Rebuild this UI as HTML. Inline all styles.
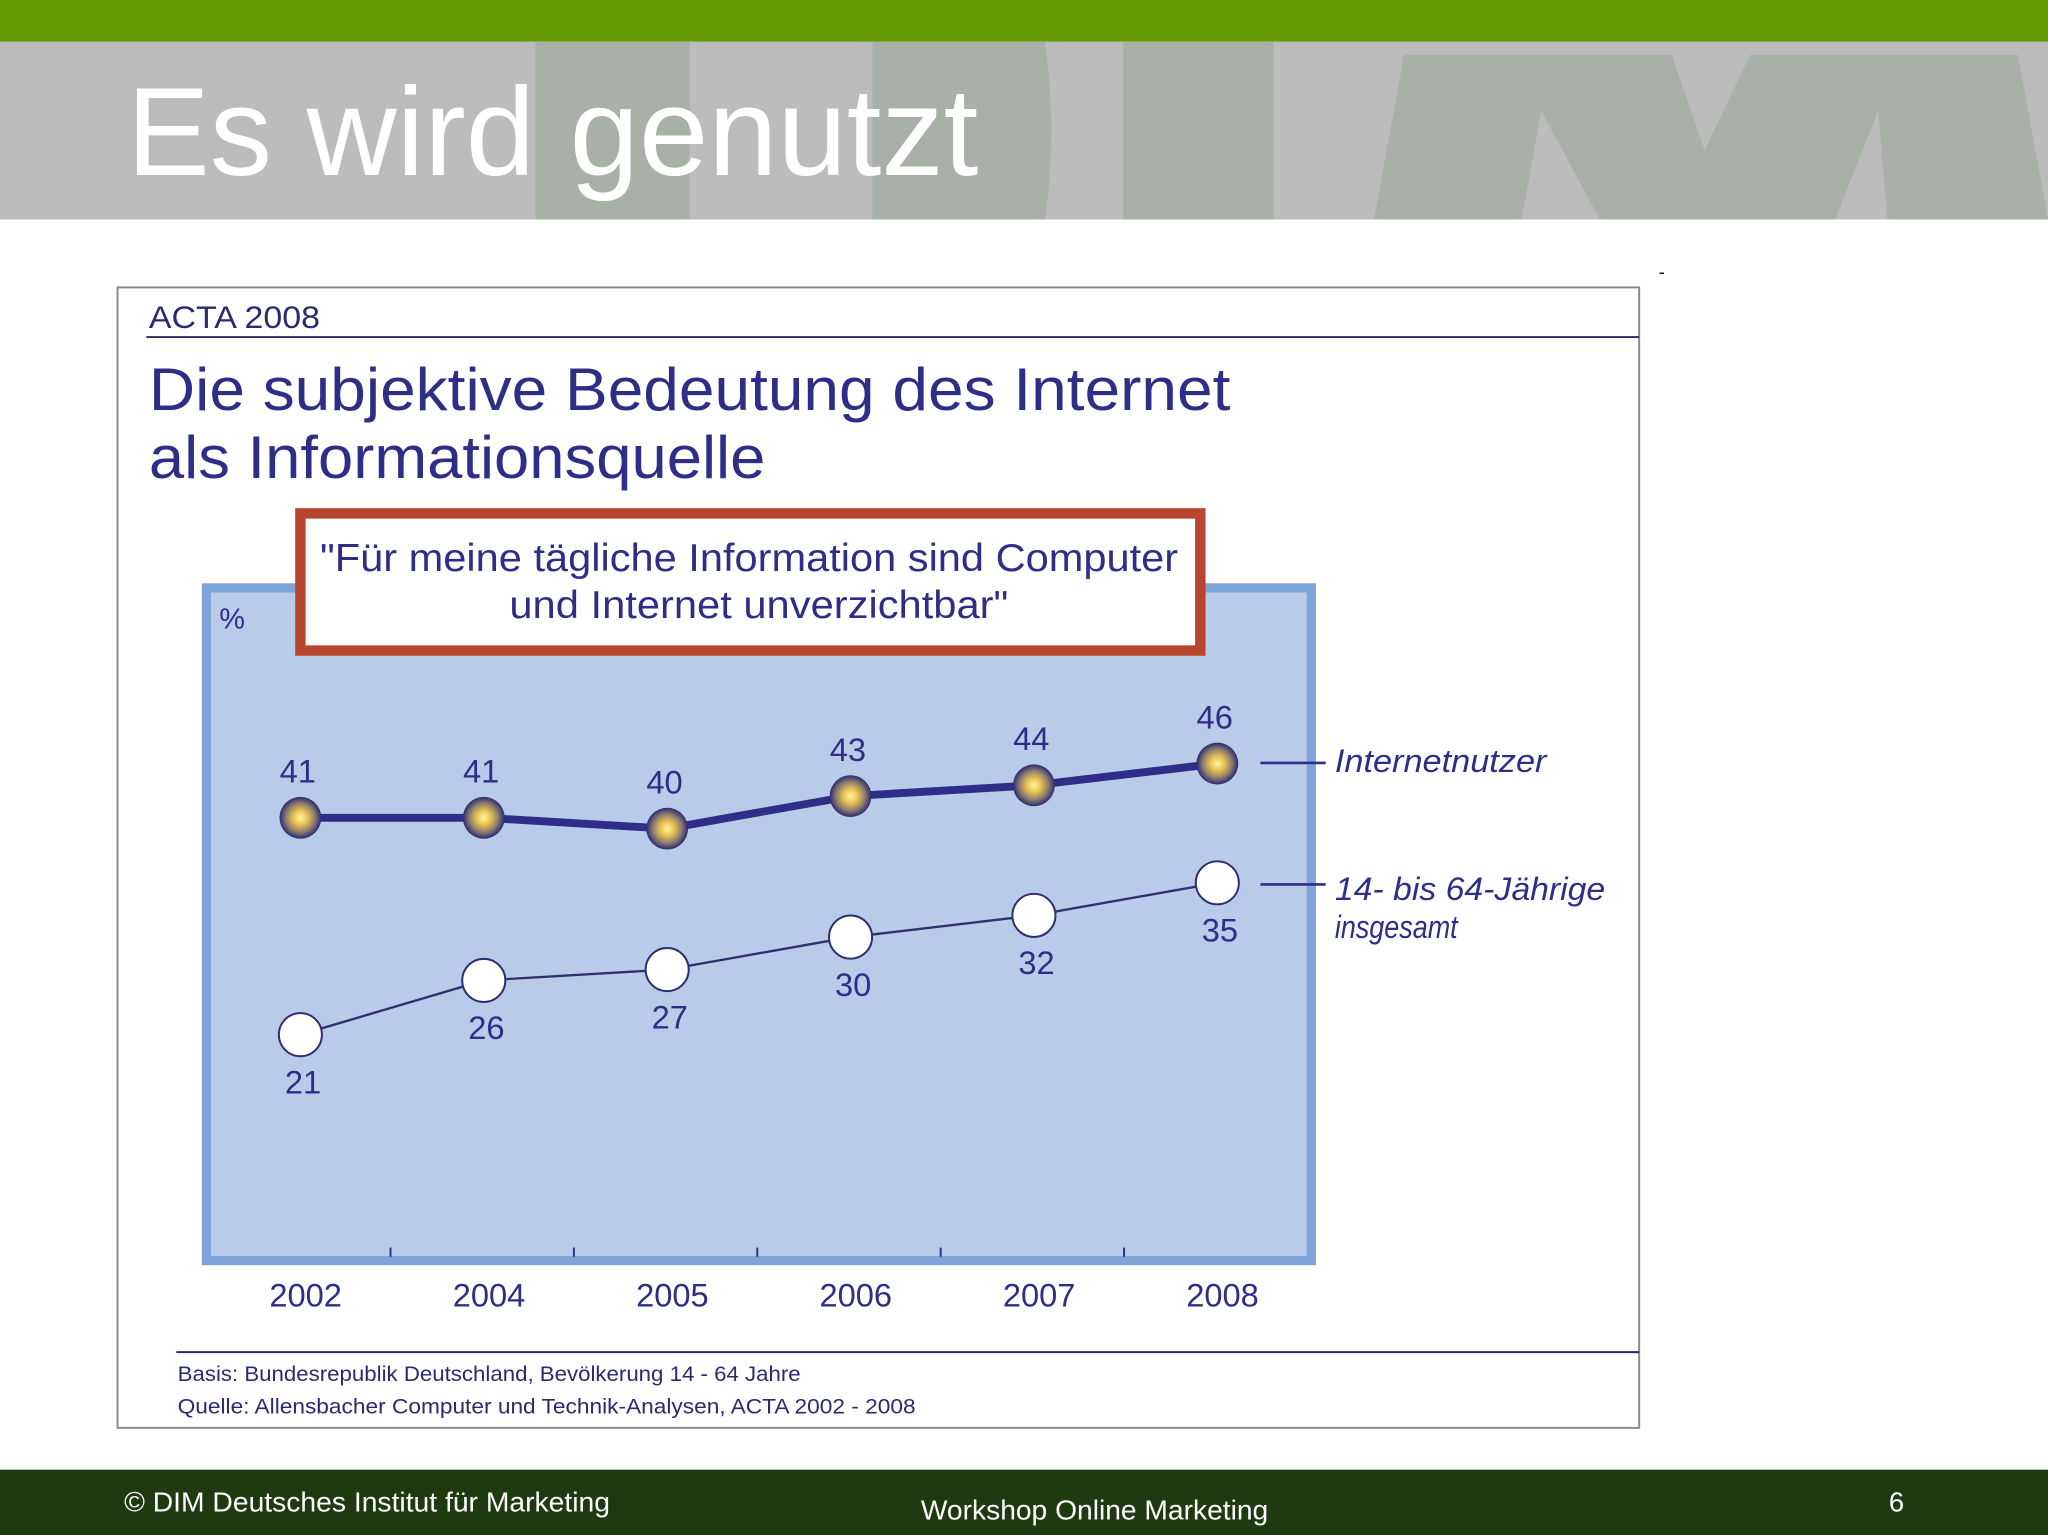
<!DOCTYPE html>
<html><head><meta charset="utf-8"><style>
html,body{margin:0;padding:0;background:#fff;}
svg{display:block;}
text{font-family:"Liberation Sans",sans-serif;}
</style></head><body>
<svg width="2048" height="1535" viewBox="0 0 1568 1175" preserveAspectRatio="none">
<defs>
<radialGradient id="gold" cx="0.5" cy="0.5" r="0.5">
<stop offset="0" stop-color="#fff6a0"/><stop offset="0.35" stop-color="#e8c050"/><stop offset="0.7" stop-color="#8a7a70"/><stop offset="1" stop-color="#2a2a70"/>
</radialGradient>
</defs>
<rect x="0" y="0" width="1568" height="32" fill="#659a00"/>
<g>
<rect x="0" y="32" width="1568" height="136" fill="#bcbcbc"/>
<rect x="410" y="32" width="118" height="136" fill="#a8b0a8"/>
<path d="M668 32 L800 32 Q810 100 800 168 L668 168 Z" fill="#a8b0a8"/>
<rect x="860" y="32" width="115" height="136" fill="#a8b0a8"/>
<path d="M1075 42 L1280 42 L1305 115 L1340 42 L1545 42 L1568 168 L1445 168 L1438 85 L1405 168 L1225 168 L1180 85 L1165 168 L1052 168 Z" fill="#a8b0a8"/>
</g>
<text x="97" y="134" font-size="96" fill="#ffffff" textLength="652" lengthAdjust="spacingAndGlyphs">Es wird genutzt</text>
<text x="1270" y="213" font-size="14" fill="#000">-</text>

<rect x="90" y="220" width="1165" height="873" fill="#fff" stroke="#888" stroke-width="1.5"/>
<text x="114" y="251" font-size="24" fill="#2a2a70" textLength="131" lengthAdjust="spacingAndGlyphs">ACTA 2008</text>
<line x1="112" y1="258" x2="1255" y2="258" stroke="#2a2a60" stroke-width="1.5"/>
<text x="114" y="314" font-size="46" fill="#2e2e88" textLength="828" lengthAdjust="spacingAndGlyphs">Die subjektive Bedeutung des Internet</text>
<text x="114" y="366" font-size="46" fill="#2e2e88" textLength="472" lengthAdjust="spacingAndGlyphs">als Informationsquelle</text>

<rect x="158" y="450" width="846" height="515" fill="#b8cbe9" stroke="#7ea3d6" stroke-width="7"/>
<text x="168" y="481" font-size="22" fill="#2e2e88">%</text>
<rect x="230" y="393" width="689" height="105" fill="#fff" stroke="#b8462e" stroke-width="8"/>
<text x="245" y="437" font-size="30" fill="#2e2e88" textLength="657" lengthAdjust="spacingAndGlyphs">"Für meine tägliche Information sind Computer</text>
<text x="390" y="473" font-size="30" fill="#2e2e88" textLength="382" lengthAdjust="spacingAndGlyphs">und Internet unverzichtbar"</text>

<g id="chart"></g>

<line x1="965" y1="584" x2="1015" y2="584" stroke="#2e2e88" stroke-width="2"/>
<text x="1022" y="591" font-size="25" font-style="italic" fill="#2e2e88" textLength="162" lengthAdjust="spacingAndGlyphs">Internetnutzer</text>
<line x1="965" y1="677" x2="1015" y2="677" stroke="#2e2e88" stroke-width="2"/>
<text x="1022" y="689" font-size="25" font-style="italic" fill="#2e2e88" textLength="207" lengthAdjust="spacingAndGlyphs">14- bis 64-Jährige</text>
<text x="1022" y="718" font-size="25" font-style="italic" fill="#2e2e88" textLength="94" lengthAdjust="spacingAndGlyphs">insgesamt</text>

<line x1="135" y1="1035" x2="1255" y2="1035" stroke="#2a2a60" stroke-width="1.5"/>
<text x="136" y="1057" font-size="16" fill="#2a2a70" textLength="477" lengthAdjust="spacingAndGlyphs">Basis: Bundesrepublik Deutschland, Bevölkerung 14 - 64 Jahre</text>
<text x="136" y="1082" font-size="16" fill="#2a2a70" textLength="565" lengthAdjust="spacingAndGlyphs">Quelle: Allensbacher Computer und Technik-Analysen, ACTA 2002 - 2008</text>

<rect x="0" y="1125" width="1568" height="50" fill="#1d3a10"/>
<text x="95" y="1157" font-size="21" fill="#fff" textLength="372" lengthAdjust="spacingAndGlyphs">© DIM Deutsches Institut für Marketing</text>
<text x="705" y="1163" font-size="21" fill="#fff" textLength="266" lengthAdjust="spacingAndGlyphs">Workshop Online Marketing</text>
<text x="1452" y="1157" font-size="21" fill="#fff" text-anchor="middle">6</text>
</svg>
<script>
const years = ["2002","2004","2005","2006","2007","2008"];
const internetnutzer = [41,41,40,43,44,46];
const gesamt = [21,26,27,30,32,35];
const NS = "http://www.w3.org/2000/svg";
const g = document.getElementById("chart");
const x0 = 230, dx = 140.4;
function xPos(i){ return x0 + i*dx; }
function yPos(v){ return 792 - (v-21)*8.3; }
function mk(tag, attrs){ const e=document.createElementNS(NS,tag); for(const k in attrs) e.setAttribute(k,attrs[k]); g.appendChild(e); return e; }
for(let i=0;i<5;i++){
  const t = mk("line",{x1:xPos(i)+69,y1:955,x2:xPos(i)+69,y2:962,stroke:"#2e2e88","stroke-width":1.5});
  
  
}
years.forEach((y,i)=>{
  const t = mk("text",{x:xPos(i)+4,y:1000,"font-size":25,fill:"#2e2e88","text-anchor":"middle"});
  t.textContent=y;
  
  
});
const l2 = mk("polyline",{points:gesamt.map((v,i)=>xPos(i)+","+yPos(v)).join(" "),fill:"none",stroke:"#2e2e70","stroke-width":1.8});


const l1 = mk("polyline",{points:internetnutzer.map((v,i)=>xPos(i)+","+yPos(v)).join(" "),fill:"none",stroke:"#2e2e88","stroke-width":6});


internetnutzer.forEach((v,i)=>{
  const c = mk("circle",{cx:xPos(i),cy:yPos(v),r:16,fill:"url(#gold)"});
  
  
  const t = mk("text",{x:xPos(i)-2,y:yPos(v)-27,"font-size":25,fill:"#2e2e88","text-anchor":"middle"});
  t.textContent=v;
  
  
});
gesamt.forEach((v,i)=>{
  const c = mk("circle",{cx:xPos(i),cy:yPos(v),r:16.5,fill:"#fff",stroke:"#2e2e70","stroke-width":1.5});
  
  
  const t = mk("text",{x:xPos(i)+2,y:yPos(v)+45,"font-size":25,fill:"#2e2e88","text-anchor":"middle"});
  t.textContent=v;
  
  
});
</script>
</body></html>
